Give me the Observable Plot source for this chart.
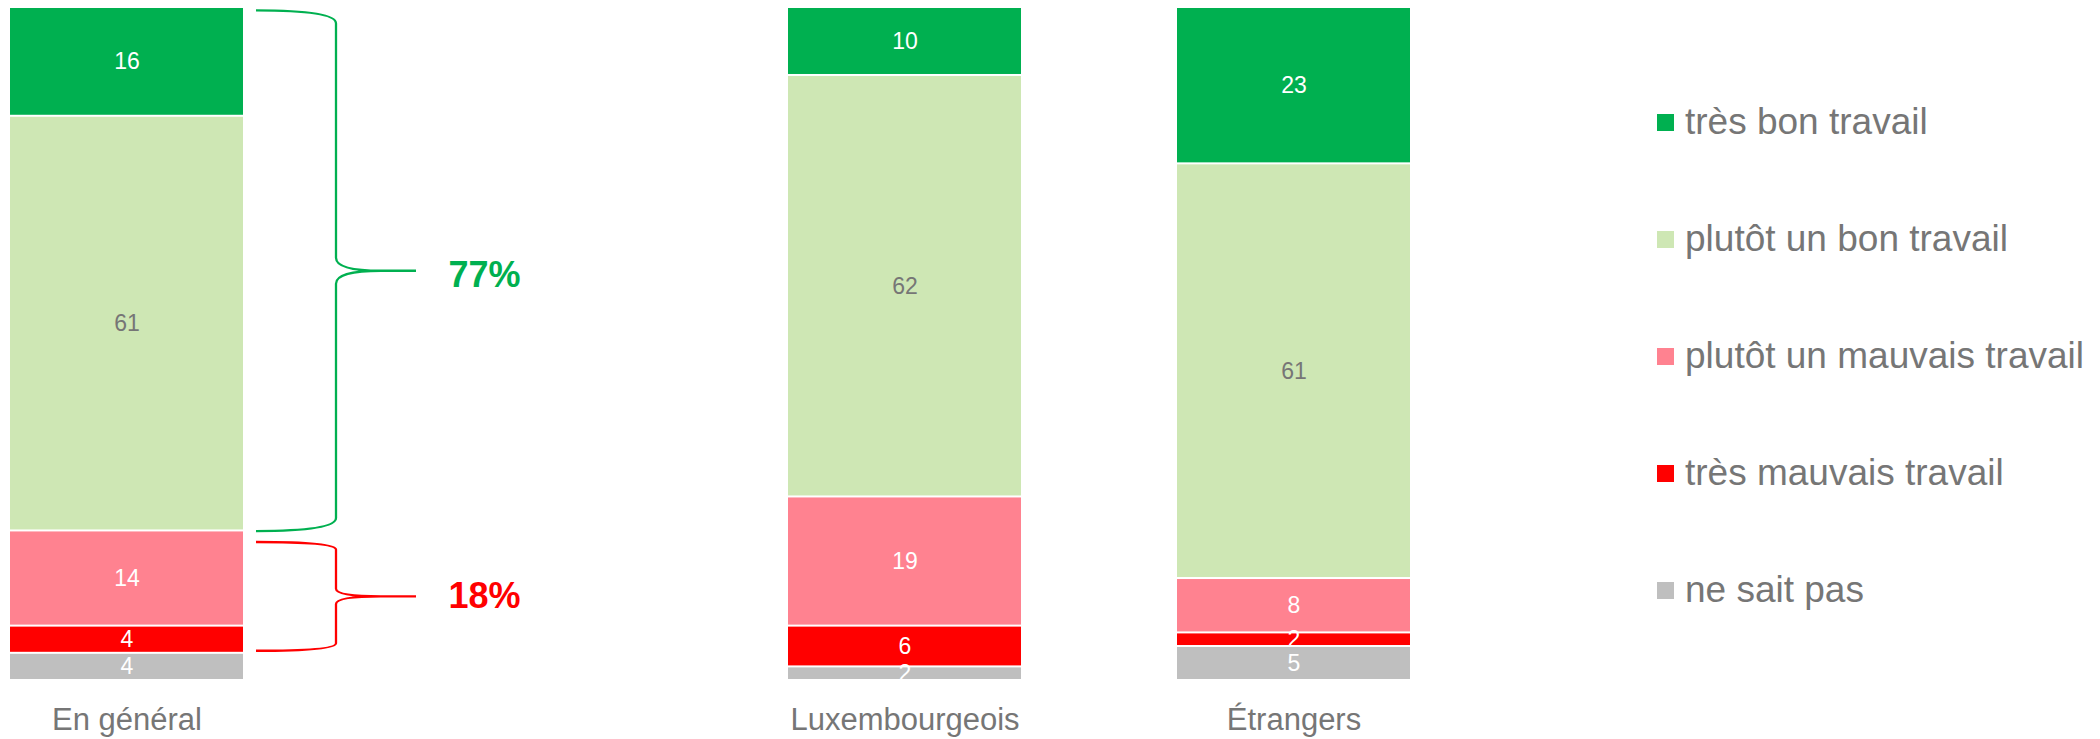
<!DOCTYPE html>
<html><head><meta charset="utf-8">
<script src="https://cdn.jsdelivr.net/npm/d3@7"></script>
<script src="https://cdn.jsdelivr.net/npm/@observablehq/plot@0.6"></script>
<style>body{margin:0;background:#fff;} svg{display:block}</style>
</head><body><div id="chart"></div>
<script>
// ---- data ----
const groups = ["En général", "Luxembourgeois", "Étrangers"];
const categories = ["ne sait pas", "très mauvais travail", "plutôt un mauvais travail", "plutôt un bon travail", "très bon travail"];
const colors = ["#BFBFBF", "#FF0000", "#FF8290", "#CEE7B4", "#00B050"];
const neSaitPas     = [4, 2, 5];
const tresMauvais   = [4, 6, 2];
const plutotMauvais = [14, 19, 8];
const plutotBon     = [61, 62, 61];
const tresBon       = [16, 10, 23];
const series = [neSaitPas, tresMauvais, plutotMauvais, plutotBon, tresBon];
const legendOrder = [...categories].reverse();
const bracketLabels = ["77%", "18%"];
const bracketFrom = [21.9, 4.3];
const bracketTo = [98.5, 20.3];
const bracketColors = ["#00B050", "#FF0000"];

const rows = [];
groups.forEach((g, gi) => categories.forEach((c, ci) => rows.push({group: g, cat: c, value: series[ci][gi]})));

const grayText = "#767676";
const font = "'Liberation Sans', Arial, sans-serif";

const chart = Plot.plot({
  width: 2100, height: 739,
  marginTop: 7, marginBottom: 59, marginLeft: 0, marginRight: 0,
  style: {fontFamily: font, background: "white"},
  x: {domain: [groups[0], "\u00a0", groups[1], groups[2]], range: [9, 1411], paddingInner: 0.4, paddingOuter: 0, axis: null},
  y: {domain: [0, 99], range: [680, 7], axis: null},
  color: {domain: categories, range: colors},
  marks: [
    Plot.barY(rows, {x: "group", y: "value", fill: "cat", z: "cat", insetTop: 1, insetBottom: 1}),
    Plot.text(rows, Plot.stackY({x: "group", y: "value", z: "cat",
      text: d => d.cat === "plutôt un bon travail" ? null : String(d.value),
      fill: "white", fontSize: 23, clip: true})),
    Plot.text(rows, Plot.stackY({x: "group", y: "value", z: "cat",
      text: d => d.cat === "plutôt un bon travail" ? String(d.value) : null,
      fill: grayText, fontSize: 23, clip: true})),
    Plot.text(groups, {x: d => d, frameAnchor: "bottom", lineAnchor: "middle", dy: 40, fontSize: 31, fill: grayText}),
    ...bracketLabels.map((lab, i) => Plot.text([lab], {
      y: () => (bracketFrom[i] + bracketTo[i]) / 2, text: d => d,
      frameAnchor: "left", lineAnchor: "middle", dx: 448, textAnchor: "start", fontWeight: "bold",
      fontSize: 36, fill: bracketColors[i], dy: i === 0 ? 4 : 0}))
  ]
});

document.getElementById("chart").appendChild(chart);

// ---- braces, drawn through the plot's scales ----
const xs = chart.scale("x"), ys = chart.scale("y");
const svg = d3.select(chart);
const xL = xs.apply(groups[0]) + xs.bandwidth + 13;
const xV = xL + 80, xA = xL + 160;
bracketLabels.forEach((lab, i) => {
  const yTop = ys.apply(bracketTo[i]), yBot = ys.apply(bracketFrom[i]);
  const yMid = (yTop + yBot) / 2;
  const o = Math.min(13, (yBot - yTop) * 0.07);
  const p = d3.path();
  p.moveTo(xL, yTop);
  p.bezierCurveTo(xL + 45, yTop, xV, yTop + o * 0.25, xV, yTop + o);
  p.lineTo(xV, yMid - o);
  p.bezierCurveTo(xV, yMid - o * 0.3, xV + 15, yMid, xV + 45, yMid);
  p.lineTo(xA, yMid);
  p.moveTo(xV + 45, yMid);
  p.bezierCurveTo(xV + 15, yMid, xV, yMid + o * 0.3, xV, yMid + o);
  p.lineTo(xV, yBot - o);
  p.bezierCurveTo(xV, yBot - o * 0.25, xL + 45, yBot, xL, yBot);
  svg.append("path").attr("d", p.toString()).attr("fill", "none")
    .attr("stroke", bracketColors[i]).attr("stroke-width", 2.3);
});

// ---- legend ----
const color = chart.scale("color");
const lg = svg.append("g").attr("font-family", font).attr("font-size", 37)
  .attr("fill", grayText).attr("text-anchor", "start");
legendOrder.forEach((c, i) => {
  const base = 134 + i * 117;
  lg.append("rect").attr("x", 1657).attr("y", base - 20).attr("width", 17).attr("height", 17)
    .attr("fill", color.apply(c));
  lg.append("text").attr("x", 1685).attr("y", base).attr("text-anchor", "start").text(c);
});
</script>
</body></html>
